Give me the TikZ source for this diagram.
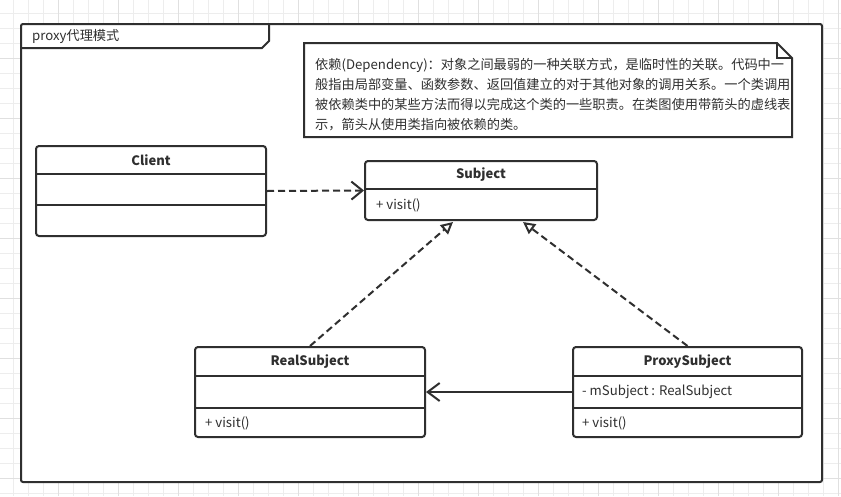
\documentclass[tikz,border=0pt]{standalone}
\usepackage{fontspec}
\setmainfont{Noto Sans CJK SC}
\usepackage{xcolor}
\usetikzlibrary{
	arrows.meta,
	calc,
	positioning
}
\definecolor{umlline}{HTML}{2F2F2F}
\definecolor{gridminor}{HTML}{EDEDED}
\definecolor{gridmajor}{HTML}{E0E0E0}

\begin{document}
\begin{tikzpicture}[x=1pt, y=-1pt,
		font=\fontsize{13.2}{20}\selectfont, text=umlline,
		umlbox/.style={draw=umlline, line width=2pt, fill=white},
		classbox/.style={umlbox, rounded corners=3pt, inner sep=0pt},
		classname/.style={font=\fontsize{13}{15}\selectfont\bfseries},
		member/.style={anchor=west, inner sep=0pt},
		sep/.style={draw=umlline, line width=2pt},
		dep/.style={draw=umlline, line width=2pt, dash pattern=on 7pt off 4pt,
			-{Straight Barb[length=11pt, width=18pt]}},
		realize/.style={draw=umlline, line width=2pt, dash pattern=on 7pt off 4pt,
			-{Triangle[open, length=12pt, width=12pt, fill=white]}},
		assoc/.style={draw=umlline, line width=2pt,
			-{Straight Barb[length=12pt, width=18pt]}}]
		\useasboundingbox (0,0) rectangle (841,496);
		\foreach \x in {13.5,28.5,...,841}
			\draw[gridminor, line width=1pt] (\x,0) -- (\x,496);
		\foreach \y in {13.5,28.5,...,496}
			\draw[gridminor, line width=1pt] (0,\y) -- (841,\y);
		\foreach \x in {58.5,118.5,...,841}
			\draw[gridmajor, line width=1pt] (\x,0) -- (\x,496);
		\foreach \y in {58.5,118.5,...,496}
			\draw[gridmajor, line width=1pt] (0,\y) -- (841,\y);
		
		\draw[umlbox, rounded corners=2pt] (21,24) rectangle (822,482);
		\draw[sep] (21,48) -- (262,48) -- (269,41) -- (269,24);
		\node[anchor=west, inner sep=0pt] (title) at (32,36.5) {proxy代理模式};
		
		\draw[umlbox] (304,43) -- (777,43) -- (792,58) -- (792,137) -- (304,137) -- cycle;
		\draw[sep] (777,43) -- (777,58) -- (792,58);
		\node[anchor=north west, align=left, inner sep=0pt] (note) at (315,58) {%
			依赖(Dependency)：对象之间最弱的一种关联方式，是临时性的关联。代码中一\\
			般指由局部变量、函数参数、返回值建立的对于其他对象的调用关系。一个类调用\\
			被依赖类中的某些方法而得以完成这个类的一些职责。在类图使用带箭头的虚线表\\
			示，箭头从使用类指向被依赖的类。};
		
		\node[classbox, minimum width=230, minimum height=90] (client) at (151,191) {};
		\node[classname] (clientname) at ($(client.north)+(0,15)$) {Client};
		\draw[sep] ($(client.north west)+(0,29)$) -- ($(client.north east)+(0,29)$);
		\draw[sep] ($(client.north west)+(0,60)$) -- ($(client.north east)+(0,60)$);
		
		\node[classbox, minimum width=232, minimum height=59] (subject) at (481,190.5) {};
		\node[classname] (subjectname) at ($(subject.north)+(0,15)$) {Subject};
		\draw[sep] ($(subject.north west)+(0,29)$) -- ($(subject.north east)+(0,29)$);
		\node[member] (subjectvisit) at ($(subject.north west)+(12,45.5)$) {+ visit()};
		
		\node[classbox, minimum width=230, minimum height=90] (realsub) at (310,392) {};
		\node[classname] (realsubname) at ($(realsub.north)+(0,15.5)$) {RealSubject};
		\draw[sep] ($(realsub.north west)+(0,30)$) -- ($(realsub.north east)+(0,30)$);
		\draw[sep] ($(realsub.north west)+(0,62)$) -- ($(realsub.north east)+(0,62)$);
		\node[member] (realsubvisit) at ($(realsub.north west)+(11,77)$) {+ visit()};
		
		\node[classbox, minimum width=229, minimum height=90] (proxysub) at (687.5,392) {};
		\node[classname] (proxysubname) at ($(proxysub.north)+(0,15.5)$) {ProxySubject};
		\draw[sep] ($(proxysub.north west)+(0,30)$) -- ($(proxysub.north east)+(0,30)$);
		\draw[sep] ($(proxysub.north west)+(0,62)$) -- ($(proxysub.north east)+(0,62)$);
		\node[member] (proxysubfield) at ($(proxysub.north west)+(10,46)$) {- mSubject : RealSubject};
		\node[member] (proxysubvisit) at ($(proxysub.north west)+(10,77)$) {+ visit()};
		
		\draw[dep] (client.east) -- (subject.west);
		\draw[realize] (realsub.north) -- ($(subject.south)+(-28,1)$);
		\draw[realize] (proxysub.north) -- ($(subject.south)+(42,1)$);
		\draw[assoc] (proxysub.west) -- (realsub.east);
	\end{tikzpicture}
\end{document}
